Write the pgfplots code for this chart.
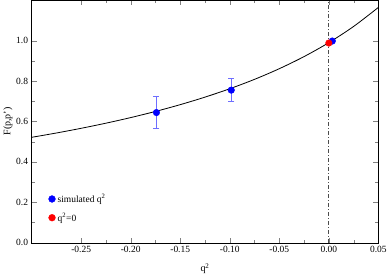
\documentclass[border=0pt]{standalone}
\usepackage{fontspec}
\setmainfont{Liberation Serif}
\usepackage{pgfplots}
\pgfplotsset{compat=1.18}
\definecolor{errblue}{RGB}{110,110,255}
\begin{document}
\begin{tikzpicture}
\begin{axis}[
  scale only axis,
  width=346bp, height=242bp,
  xmin=-0.3, xmax=0.05, ymin=0, ymax=1.2,
  xtick={-0.25,-0.2,-0.15,-0.1,-0.05,0,0.05},
  ytick={0,0.2,0.4,0.6,0.8,1.0},
  minor x tick num=1, minor y tick num=1,
  tick align=inside,
  major tick length=5bp, minor tick length=3bp,
  xticklabel style={/pgf/number format/.cd,fixed,fixed zerofill,precision=2},
  yticklabel style={/pgf/number format/.cd,fixed,fixed zerofill,precision=1},
  /pgf/number format/assume math mode=true,
  tick label style={font=\fontsize{9.5}{11}\selectfont},
  label style={font=\fontsize{10}{11}\selectfont},
  xlabel={q\textsuperscript{2}},
  ylabel={F(p,p')},
  xlabel style={yshift=-4bp},
  ylabel style={yshift=-3bp},
  legend style={draw=none, fill=none, at={(0.045,0.07)}, anchor=south west, font=\fontsize{9.5}{11}\selectfont, row sep=5bp, inner sep=1bp},
  legend cell align=left,
  legend image code/.code={\fill[#1] (0.15cm,0) circle (3.4bp);},
]
\addplot[black, thick, smooth, forget plot] coordinates {
(-0.300,0.5216) (-0.275,0.5429) (-0.250,0.5662) (-0.225,0.5915) (-0.200,0.6192)
(-0.175,0.6496) (-0.150,0.6832) (-0.125,0.7204) (-0.100,0.7619) (-0.075,0.8084)
(-0.050,0.8611) (-0.025,0.9210) (0.000,0.9900) (0.025,1.0701) (0.050,1.1643)};
\addplot[black!70, thick, dash pattern=on 4pt off 2pt on 1pt off 2pt, forget plot] coordinates {(0,0) (0,1.2)};
\addplot[forget plot, only marks, errblue, mark=none, error bars/.cd, y dir=both, y explicit,
  error bar style={errblue, line width=0.6pt}, error mark options={errblue, mark size=3bp, rotate=90}]
 coordinates {(-0.174,0.644) +- (0,0.079) (-0.0985,0.755) +- (0,0.057)};
\addplot[only marks, blue, mark=*, mark size=3.3bp, mark options={fill=blue, draw=blue}]
 coordinates {(-0.174,0.644) (-0.0985,0.755) (0.0035,0.998)};
\addlegendentry{simulated q\textsuperscript{2}}
\addplot[only marks, red, mark=*, mark size=3.3bp, mark options={fill=red, draw=red}]
 coordinates {(0,0.988)};
\addlegendentry{q\textsuperscript{2}=0}
\end{axis}
\end{tikzpicture}
\end{document}
